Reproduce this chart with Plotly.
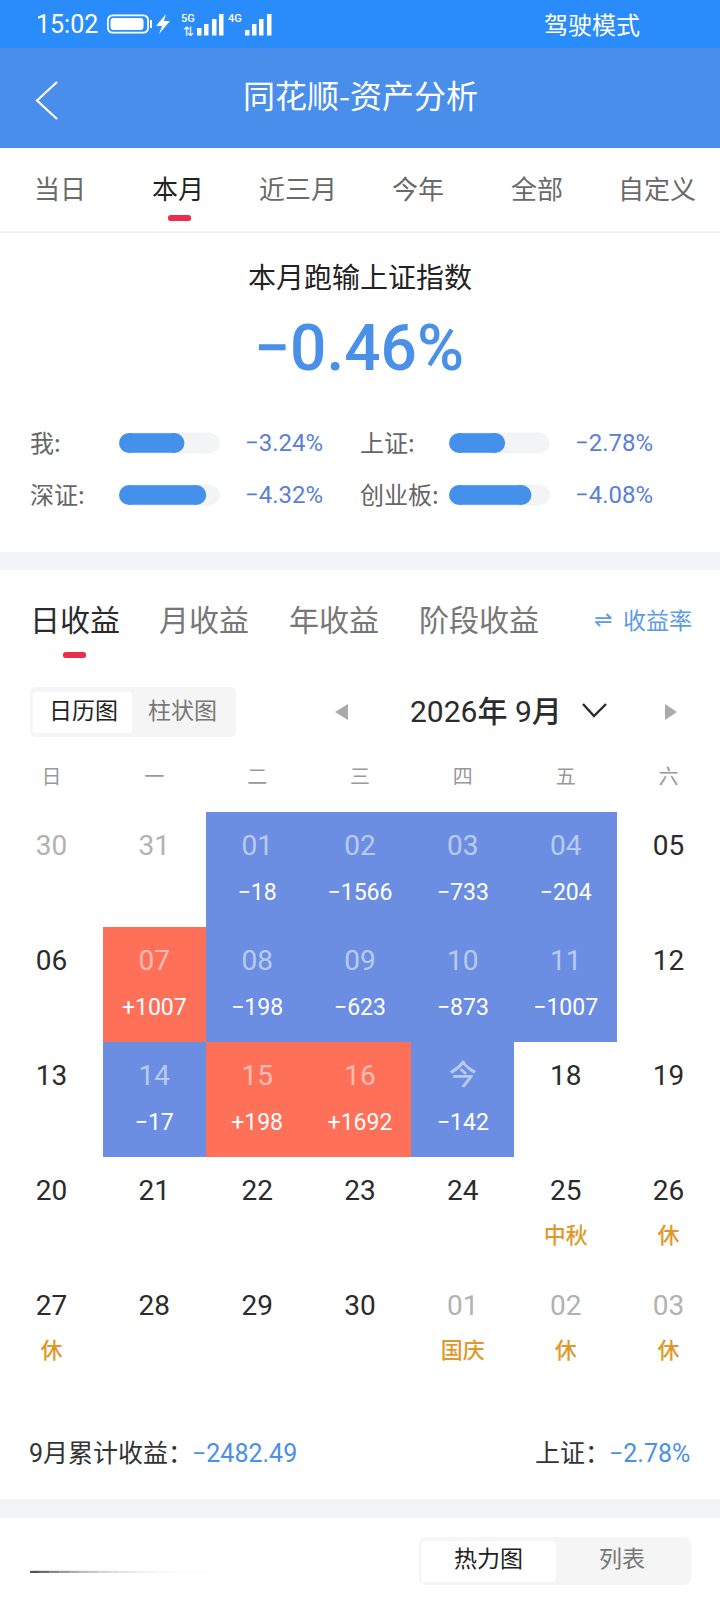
import plotly.graph_objects as go

W = 720
H = 1600
CJK = "Noto Sans CJK SC"
NUM = "Roboto, 'Noto Sans CJK SC'"

# tabs
range_tabs = ["当日", "本月", "近三月", "今年", "全部", "自定义"]
range_tab_x = [60, 178, 298, 418, 537, 657]
profit_tabs = ["日收益", "月收益", "年收益", "阶段收益"]
profit_tab_x = [75, 204, 334, 479]

# index comparison
headline = -0.46
left_names = ["我:", "深证:"]
left_values = [-3.24, -4.32]
right_names = ["上证:", "创业板:"]
right_values = [-2.78, -4.08]
bar_max = 5

# calendar
weekdays = ["日", "一", "二", "三", "四", "五", "六"]
day_labels = [
    ["30", "31", "01", "02", "03", "04", "05"],
    ["06", "07", "08", "09", "10", "11", "12"],
    ["13", "14", "15", "16", "今", "18", "19"],
    ["20", "21", "22", "23", "24", "25", "26"],
    ["27", "28", "29", "30", "01", "02", "03"],
]
day_profit = [
    [None, None, -18, -1566, -733, -204, None],
    [None, 1007, -198, -623, -873, -1007, None],
    [None, -17, 198, 1692, -142, None, None],
    [None, None, None, None, None, None, None],
    [None, None, None, None, None, None, None],
]
day_notes = [
    ["", "", "", "", "", "", ""],
    ["", "", "", "", "", "", ""],
    ["", "", "", "", "", "", ""],
    ["", "", "", "", "", "中秋", "休"],
    ["休", "", "", "", "国庆", "休", "休"],
]
other_month = [(0, 0), (0, 1), (4, 4), (4, 5), (4, 6)]
month_total = -2482.49
index_total = -2.78

BLUE = "#4a8fe8"
CELL_BLUE = "#6b8ee2"
CELL_RED = "#ff7059"
RED_MARK = "#e8304a"
GAP = "#f2f3f7"
SEG = "#f5f5f6"


def dom(top, bottom):
    return [1 - bottom / H, 1 - top / H]


shapes = []
notes = []


def rect(x0, y0, x1, y1, color):
    shapes.append(dict(type="rect", xref="x", yref="y", x0=x0, y0=y0, x1=x1, y1=y1,
                       fillcolor=color, line_width=0, layer="below"))


def rounded(x0, y0, x1, y1, r, color):
    p = (f"M{x0+r} {y0} L{x1-r} {y0} Q{x1} {y0} {x1} {y0+r} L{x1} {y1-r} Q{x1} {y1} {x1-r} {y1} "
         f"L{x0+r} {y1} Q{x0} {y1} {x0} {y1-r} L{x0} {y0+r} Q{x0} {y0} {x0+r} {y0} Z")
    shapes.append(dict(type="path", xref="x", yref="y", path=p, fillcolor=color, line_width=0, layer="below"))


def path(p, fill=None, line=None, width=2):
    s = dict(type="path", xref="x", yref="y", path=p, layer="above")
    s["line"] = dict(color=line, width=width) if line else dict(width=0)
    if fill:
        s["fillcolor"] = fill
    shapes.append(s)


def label(x, y, text, size, color, anchor="center", font=CJK, weight=None):
    f = dict(size=size, color=color, family=font)
    if weight:
        f["weight"] = weight
    notes.append(dict(x=x, y=y, xref="x", yref="y", text=text, showarrow=False, xanchor=anchor,
                      yanchor="middle", font=f, borderpad=0))


def pct(v):
    return f"−{abs(v):.2f}%"


# header
rect(0, 0, W, 48, "#2a8cfb")
rect(0, 48, W, 148, "#4a8eeb")
label(35, 24, "15:02", 25, "white", "left", NUM)
rounded(107, 14.5, 149, 33.5, 6, "white")
rounded(108.8, 16.3, 147.2, 31.7, 4.5, "#2a8cfb")
rounded(110.5, 18, 143.5, 30, 3, "white")
rect(150, 20, 152, 28, "white")
path("M166 14 L156 26 L162 26 L159 34 L170 21 L164 21 Z", fill="white")
label(188, 18, "5G", 11, "white", font=NUM, weight=500)
label(188, 31, "⇅", 13, "white", font="DejaVu Sans")
for bx, by in zip([197, 204, 212, 219], [28, 24, 19, 14]):
    rect(bx, by, bx + 4.5, 35.5, "white")
label(235, 18, "4G", 11, "white", font=NUM, weight=500)
for bx, by in zip([245, 252, 259, 267], [30, 24, 19, 14]):
    rect(bx, by, bx + 4.5, 35.5, "white")
label(592, 23, "驾驶模式", 24, "white")
path("M57 82 L37 100.5 L57 119", line="white", width=2.2)
label(360, 94, "同花顺-资产分析", 32, "white")

# range tabs
for name, x in zip(range_tabs, range_tab_x):
    active = name == "本月"
    label(x, 187, name, 26, "#222222" if active else "#6a6a6a")
rounded(168, 215, 191, 221, 2.5, RED_MARK)
rect(0, 231.5, W, 233, "#eeeeee")

# comparison block
label(360, 276, "本月跑输上证指数", 28, "#222222")
label(359, 348, pct(headline), 64, BLUE, font=NUM, weight=500)
for i, (name, v) in enumerate(zip(left_names, left_values)):
    label(29, 441 + 52 * i, name, 24, "#666666", "left")
    label(244, 443 + 52 * i, pct(v), 24, "#5a80d6", "left", NUM, 450)
for i, (name, v) in enumerate(zip(right_names, right_values)):
    label(359, 441 + 52 * i, name, 24, "#666666", "left")
    label(574, 443 + 52 * i, pct(v), 24, "#5a80d6", "left", NUM, 450)
rect(0, 552, W, 570, GAP)

# profit tabs
for name, x in zip(profit_tabs, profit_tab_x):
    label(x, 618, name, 30, "#2b2b2b" if name == "日收益" else "#777777")
rounded(63, 652, 86, 658, 2.5, RED_MARK)
label(603, 619, "⇌", 22, "#5b9be8", font="DejaVu Sans")
label(657, 619, "收益率", 23, "#5b9be8")

# calendar switch and month title
rounded(30, 687, 236, 737, 6, SEG)
rounded(33, 692, 132, 733, 4, "white")
label(83, 709, "日历图", 23, "#222222")
label(182, 709, "柱状图", 23, "#777777")
path("M348 704 L335 712 L348 720 Z", fill="#aaaaaa")
path("M665 704 L677 712 L665 720 Z", fill="#aaaaaa")
label(486, 711, "2026年 9月", 30, "#2b2b2b", font=NUM, weight=450)
path("M583 704 L594 716 L606 704", line="#2b2b2b", width=2.4)

# totals
label(28, 1453, "9月累计收益：", 25, "#333333", "left", NUM)
label(191, 1453, pct(month_total).rstrip("%"), 25, BLUE, "left", NUM, 450)
label(534, 1453, "上证：", 25, "#333333", "left", NUM)
label(608, 1453, pct(index_total), 25, BLUE, "left", NUM, 450)
rect(0, 1499, W, 1518, GAP)

# bottom switch
rounded(419, 1537, 691, 1585, 7, SEG)
rounded(421, 1541, 556, 1582, 5, "white")
label(488, 1557, "热力图", 23, "#222222")
label(622, 1557, "列表", 23, "#777777")
for k in range(24):
    a = (1 - k / 24) ** 4 * 0.8
    rect(30 + k * 9.75, 1570.8, 30 + (k + 1) * 9.75, 1573, f"rgba(40,40,40,{a:.3f})")

fig = go.Figure()

# invisible trace keeps the canvas axes alive
fig.add_trace(go.Scatter(x=[0, W], y=[0, H], mode="markers", marker_opacity=0, hoverinfo="skip",
                         showlegend=False))

# progress bars: bar body plus round end markers
cap = 10 * bar_max / 101
for names, vals, xa, ya in [(left_names, left_values, "x3", "y3"), (right_names, right_values, "x4", "y4")]:
    sizes = [abs(v) for v in vals]
    # grey track, its left end is always hidden under the blue bar
    fig.add_trace(go.Bar(y=names, x=[bar_max - 2 * cap] * len(names), base=cap, orientation="h", xaxis=xa, yaxis=ya,
                         width=0.385, marker=dict(color="#f3f4f6"), showlegend=False, hoverinfo="skip"))
    fig.add_trace(go.Scatter(y=names, x=[bar_max - cap] * len(names), mode="markers", xaxis=xa, yaxis=ya,
                             marker=dict(size=20, color="#f3f4f6", line_width=0), showlegend=False, hoverinfo="skip"))
    fig.add_trace(go.Bar(y=names, x=[s - 2 * cap for s in sizes], base=cap, orientation="h", xaxis=xa, yaxis=ya,
                         width=0.385, marker=dict(color="#4590ea"), showlegend=False, hoverinfo="skip"))
    fig.add_trace(go.Scatter(y=names + names, x=[cap] * len(names) + [s - cap for s in sizes], mode="markers",
                             xaxis=xa, yaxis=ya, marker=dict(size=20, color="#4590ea", line_width=0),
                             showlegend=False, hoverinfo="skip"))

# calendar cells
cols = list(range(7))
rows = list(range(5))
z = [[float("nan") if v is None else v for v in r] for r in day_profit]
fig.add_trace(go.Heatmap(x=cols, y=rows, z=z, xaxis="x2", yaxis="y2", zmid=0, showscale=False,
                         colorscale=[[0, CELL_BLUE], [0.5, CELL_BLUE], [0.5, CELL_RED], [1, CELL_RED]]))

# calendar text
day_x, day_y, day_text, day_color = [], [], [], []
sub_x, sub_y, sub_text, sub_color, sub_size = [], [], [], [], []
for r in rows:
    for c in cols:
        v = day_profit[r][c]
        day_x.append(c)
        day_y.append(r - 0.19)
        day_text.append(day_labels[r][c])
        if v is not None:
            day_color.append("rgba(255,255,255,0.55)")
        elif (r, c) in other_month:
            day_color.append("#b2b2b2")
        else:
            day_color.append("#2b2b2b")
        if v is not None:
            sub_x.append(c)
            sub_y.append(r + 0.213)
            sub_text.append(f"{'+' if v > 0 else '−'}{abs(v)}")
            sub_color.append("white")
            sub_size.append(23)
        elif day_notes[r][c]:
            sub_x.append(c)
            sub_y.append(r + 0.2)
            sub_text.append(day_notes[r][c])
            sub_color.append("#e0982a")
            sub_size.append(22)
fig.add_trace(go.Scatter(x=day_x, y=day_y, text=day_text, mode="text", xaxis="x2", yaxis="y2", showlegend=False,
                         hoverinfo="skip", textfont=dict(size=28, color=day_color, family=NUM, weight=450)))
fig.add_trace(go.Scatter(x=sub_x, y=sub_y, text=sub_text, mode="text", xaxis="x2", yaxis="y2", showlegend=False,
                         hoverinfo="skip", textfont=dict(size=sub_size, color=sub_color, family=NUM, weight=450)))

hidden = dict(visible=False, fixedrange=True)
fig.update_layout(
    width=W,
    height=H,
    margin=dict(l=0, r=0, t=0, b=0),
    paper_bgcolor="white",
    plot_bgcolor="rgba(0,0,0,0)",
    barmode="overlay",
    showlegend=False,
    shapes=shapes,
    annotations=notes,
    xaxis=dict(range=[0, W], domain=[0, 1], **hidden),
    yaxis=dict(range=[H, 0], domain=[0, 1], **hidden),
    xaxis2=dict(range=[-0.5, 6.5], domain=[0, 1], anchor="y2", side="top", tickmode="array", tickvals=cols,
                ticktext=weekdays, tickfont=dict(size=20, color="#999999", family=CJK), ticks="",
                ticklabelstandoff=23, showgrid=False, zeroline=False, showline=False, fixedrange=True),
    yaxis2=dict(range=[4.5, -0.5], domain=dom(812, 1387), anchor="x2", **hidden),
    xaxis3=dict(range=[0, bar_max], domain=[119 / W, 220 / W], anchor="y3", **hidden),
    yaxis3=dict(domain=dom(417, 521), anchor="x3", range=[1.5, -0.5], type="category", **hidden),
    xaxis4=dict(range=[0, bar_max], domain=[449 / W, 550 / W], anchor="y4", **hidden),
    yaxis4=dict(domain=dom(417, 521), anchor="x4", range=[1.5, -0.5], type="category", **hidden),
)

fig.write_html("out.html", config=dict(displayModeBar=False), post_script="document.body.style.margin='0';")
